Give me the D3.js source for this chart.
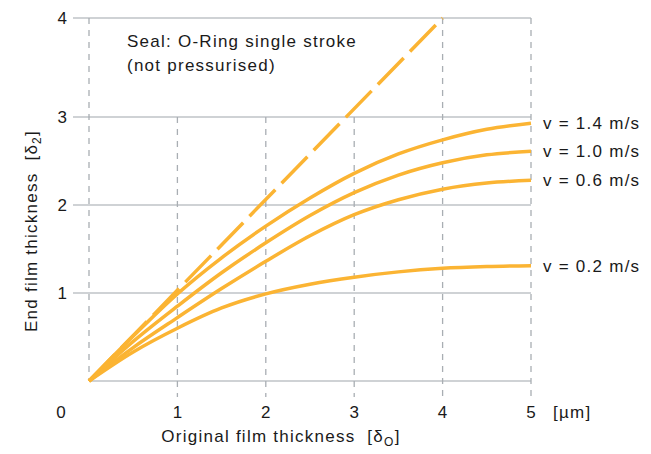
<!DOCTYPE html>
<html><head><meta charset="utf-8">
<script src="https://cdn.jsdelivr.net/npm/d3@7"></script>
<style>
html,body{margin:0;padding:0;background:#fff;}
text{font-family:"Liberation Sans",Arial,Helvetica,sans-serif;fill:#1a1a1a;}
.sp{letter-spacing:1.25px;}
</style></head>
<body><svg id="c" width="651" height="454"></svg>
<script>
const xTicks = [1, 2, 3, 4, 5];
const yTicks = [1, 2, 3, 4];
const xs = [0, 0.5, 1, 1.5, 2, 2.5, 3, 3.5, 4, 4.5, 5];
const v14 = [0, 0.51, 0.99, 1.40, 1.76, 2.08, 2.36, 2.58, 2.74, 2.86, 2.93];
const v10 = [0, 0.45, 0.85, 1.23, 1.57, 1.88, 2.14, 2.34, 2.48, 2.57, 2.61];
const v06 = [0, 0.38, 0.72, 1.05, 1.36, 1.65, 1.89, 2.06, 2.18, 2.25, 2.28];
const v02 = [0, 0.33, 0.60, 0.83, 0.99, 1.10, 1.18, 1.24, 1.28, 1.30, 1.31];
const seriesLabels = ["v = 1.4 m/s", "v = 1.0 m/s", "v = 0.6 m/s", "v = 0.2 m/s"];
const refX = [0, 4];
const refY = [0, 4];

const svg = d3.select("#c");
const x = d3.scaleLinear().domain([0, 5]).range([89, 531]);
const y = d3.scaleLinear().domain([0, 3, 4]).range([381, 117, 18]);
const orange = "#fbb433";
const gridSolid = "#bfc3c7";
const gridDash = "#a9aeb3";

// horizontal grid lines
svg.append("line").attr("x1", x(0)).attr("x2", x(5)).attr("y1", y(0)).attr("y2", y(0))
  .attr("stroke", gridSolid).attr("stroke-width", 1.3);
yTicks.forEach(t => {
  svg.append("line").attr("x1", 73).attr("x2", x(5)).attr("y1", y(t)).attr("y2", y(t))
    .attr("stroke", gridSolid).attr("stroke-width", 1.3);
});
// vertical dashed lines
svg.append("line").attr("x1", x(0)).attr("x2", x(0)).attr("y1", y(4)).attr("y2", y(0))
  .attr("stroke", gridDash).attr("stroke-width", 1.3).attr("stroke-dasharray", "6,6");
xTicks.forEach(t => {
  const top = t >= 4 ? y(4) : y(3);
  svg.append("line").attr("x1", x(t)).attr("x2", x(t)).attr("y1", top).attr("y2", y(0) + 16)
    .attr("stroke", gridDash).attr("stroke-width", 1.3).attr("stroke-dasharray", "6,6");
});

// tick labels
svg.append("text").attr("x", 61).attr("y", 418).attr("text-anchor", "middle")
  .attr("font-size", 17).text("0");
xTicks.forEach(t => {
  svg.append("text").attr("x", x(t)).attr("y", 418).attr("text-anchor", "middle")
    .attr("font-size", 17).text(t);
});
yTicks.forEach(t => {
  svg.append("text").attr("x", 67).attr("y", y(t) + 6).attr("text-anchor", "end")
    .attr("font-size", 17).text(t);
});
svg.append("text").attr("class", "sp").attr("x", 553).attr("y", 418).attr("font-size", 17).text("[µm]");

// axis titles
const xt = svg.append("text").attr("class", "sp").attr("x", 281).attr("y", 442).attr("text-anchor", "middle")
  .attr("font-size", 17);
xt.append("tspan").text("Original film thickness\u00a0\u00a0[δ");
xt.append("tspan").attr("font-size", 12).attr("dy", 4).text("O");
xt.append("tspan").attr("dy", -4).text("]");

const yt = svg.append("text").attr("class", "sp").attr("transform", "translate(37,231) rotate(-90)")
  .attr("text-anchor", "middle").attr("font-size", 17);
yt.append("tspan").text("End film thickness\u00a0\u00a0[δ");
yt.append("tspan").attr("font-size", 12).attr("dy", 4).text("2");
yt.append("tspan").attr("dy", -4).text("]");

// annotation
svg.append("text").attr("class", "sp").attr("x", 127).attr("y", 47).attr("font-size", 17).text("Seal: O-Ring single stroke");
svg.append("text").attr("class", "sp").attr("x", 127).attr("y", 71).attr("font-size", 17).text("(not pressurised)");

// reference dashed line
svg.append("path")
  .attr("d", d3.line().x(d => x(d[0])).y(d => y(d[1]))(refX.map((v, i) => [v, refY[i]])))
  .attr("fill", "none").attr("stroke", orange).attr("stroke-width", 3.5)
  .attr("stroke-dasharray", "37,9");

// curves
const line = d3.line().x(d => x(d[0])).y(d => y(d[1])).curve(d3.curveCatmullRom.alpha(0.5));
[v14, v10, v06, v02].forEach((s, i) => {
  const pts = xs.map((v, j) => [v, s[j]]);
  svg.append("path").attr("d", line(pts)).attr("fill", "none")
    .attr("stroke", orange).attr("stroke-width", 3.5);
  svg.append("text").attr("class", "sp").attr("x", 543).attr("y", y(s[s.length - 1]) + 6)
    .attr("font-size", 17).text(seriesLabels[i]);
});
</script></body></html>
